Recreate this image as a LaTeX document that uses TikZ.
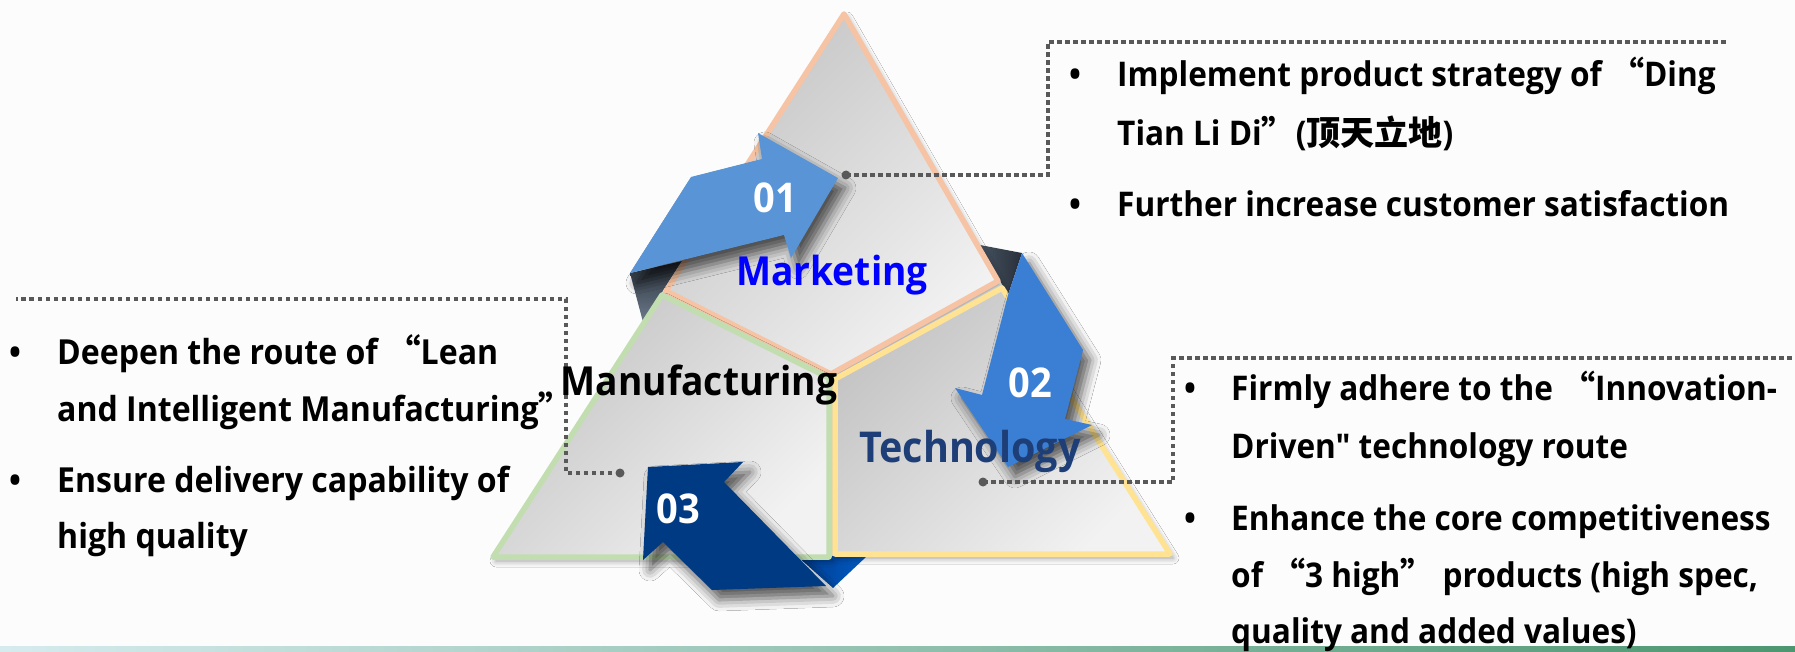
\documentclass[tikz,border=0pt]{standalone}
\usepackage{fontspec}
\usetikzlibrary{shadows.blur}
\newfontfamily\rawfont{Open Sans}
\newfontfamily\cjkfont{Noto Sans CJK SC}
\newlength\measw
\settowidth\measw{\rawfont\bfseries\fontsize{34}{40}\selectfont Further increase customer satisfaction}
\edef\stretchval{\fpeval{round(612pt/\measw,3)}}
\expanded{\noexpand\newfontfamily\noexpand\mainf{Open Sans}[FakeStretch=\stretchval]}
\newcommand\qo{{\cjkfont\bfseries “}}
\newcommand\qc{{\cjkfont\bfseries ”}}
\newcommand\qcend{\makebox[0.4em][l]{\cjkfont\bfseries ”}}
\definecolor{bgc}{HTML}{FCFCFC}
\definecolor{pdark}{HTML}{C4C4C4}
\definecolor{plight}{HTML}{F2F2F2}
\definecolor{peach}{HTML}{F6C4A4}
\definecolor{pgreen}{HTML}{C2DEB0}
\definecolor{pyellow}{HTML}{FFE392}
\definecolor{arA}{HTML}{5894D6}
\definecolor{arB}{HTML}{3B7FD4}
\definecolor{arC}{HTML}{003A82}
\definecolor{dotc}{HTML}{595959}
\definecolor{techc}{HTML}{1E3E78}
\tikzset{
  piece/.style={top color=pdark, bottom color=plight, shading angle=45,
    line width=5.5pt, line join=round,
    blur shadow={shadow xshift=3pt, shadow yshift=-4pt, shadow blur radius=6pt, shadow opacity=40}},
  arrowshape/.style={blur shadow={shadow xshift=7pt, shadow yshift=-10pt, shadow blur radius=11pt, shadow opacity=65}},
  dotline/.style={draw=dotc, line width=4.2pt, dash pattern=on 4.5pt off 3.5pt},
  dotend/.style={circle, fill=dotc, inner sep=0pt, minimum size=9pt},
  bodytext/.style={anchor=base west, inner sep=0pt, font=\mainf\bfseries\fontsize{34}{40}\selectfont},
  lefttext/.style={anchor=base west, inner sep=0pt, font=\mainf\bfseries\fontsize{34.5}{40}\selectfont},
  bullet/.style={anchor=base, inner sep=0pt, font=\mainf\bfseries\fontsize{34}{40}\selectfont},
  label/.style={anchor=base, inner sep=0pt, font=\mainf\bfseries\fontsize{40}{46}\selectfont},
  num/.style={anchor=base, inner sep=0pt, text=white, font=\mainf\bfseries\fontsize{41}{48}\selectfont}
}
\begin{document}
\begin{tikzpicture}[x=1pt,y=-1pt]
\useasboundingbox (0,0) rectangle (1795,652);
\fill[bgc] (0,0) rectangle (1795,652);
% bottom strip
\shade[left color={rgb,255:red,214;green,235;blue,238}, middle color={rgb,255:red,166;green,208;blue,214}, right color={rgb,255:red,76;green,150;blue,112}] (0,646) rectangle (1795,652);
% folds behind
\shade[top color={rgb,255:red,42;green,50;blue,60}, bottom color={rgb,255:red,108;green,122;blue,138}] (630,273) -- (682,261) -- (643,322) -- cycle;
\shade[left color={rgb,255:red,70;green,82;blue,96}, right color={rgb,255:red,40;green,48;blue,58}] (980,245) -- (1022,253) -- (1008,295) -- cycle;
\shade[left color={rgb,255:red,0;green,60;blue,140}, right color={rgb,255:red,0;green,90;blue,196}] (797,556) -- (867,556) -- (833,588) -- cycle;
% pieces
\path[piece, draw=peach] (844,14) -- (998,281) -- (831,374) -- (666,291) -- cycle;
\path[piece, draw=pgreen] (662,295) -- (493,557) -- (829,557) -- (829,378) -- cycle;
\path[piece, draw=pyellow] (1002,288) -- (1170,554) -- (835,554) -- (835,379) -- cycle;
% arrows
\fill[arA, arrowshape] (630,273) -- (691,177) -- (762,159) -- (758,133) -- (838,178) -- (791,258) -- (784,235) -- cycle;
\fill[arB, arrowshape] (1022,253) -- (1083,350) -- (1065,419) -- (1092,425) -- (1008,467) -- (955,388) -- (982,395) -- (1008,295) -- cycle;
\fill[arC, arrowshape] (648,467) -- (743,462) -- (724,482) -- (826,586) -- (712,590) -- (663,542) -- (643,560) -- cycle;
% connectors
\node[dotend] (mdot) at (846,175) {};
\coordinate (mk) at (1048,175);
\coordinate (mend) at (1726,42);
\draw[dotline] (mdot.center) -- (mk) |- (mend);
\node[dotend] (fdot) at (620,473) {};
\coordinate (fk) at (566,473);
\coordinate (fend) at (16,299);
\draw[dotline] (fdot.center) -- (fk) |- (fend);
\node[dotend] (tdot) at (983,482) {};
\coordinate (tk) at (1173,482);
\coordinate (tend) at (1795,358);
\draw[dotline] (tdot.center) -- (tk) |- (tend);
% labels
\node[num] (n1) at (775,213) {01};
\node[num] (n2) at (1030,397) {02};
\node[num] (n3) at (678,523) {03};
\node[label, text={rgb,255:red,0;green,0;blue,255}] (mkt) at (832,285) {Marketing};
\node[label, text=black] (mfg) at (699,395) {Manufacturing};
\node[label, text=techc, font=\mainf\bfseries\fontsize{42.5}{48}\selectfont] (tec) at (970,462) {Technology};
% right top text
\node[bullet] (b1) at (1075,87) {•};
\node[bodytext] (t1) at (1117,87) {Implement product strategy of \qo Ding};
\node[bodytext] (t2) at (1117,146) {Tian Li Di\qc(\cjkfont\bfseries 顶天立地\mainf)};
\node[bullet] (b2) at (1075,217) {•};
\node[bodytext] (t3) at (1117,217) {Further increase customer satisfaction};
% left text
\node[bullet] (b3) at (15,364) {•};
\node[lefttext] (l1) at (57,364) {Deepen the route of \qo Lean};
\node[lefttext] (l2) at (57,421) {and Intelligent Manufacturing\qcend};
\node[bullet] (b4) at (15,492) {•};
\node[lefttext] (l3) at (57,492) {Ensure delivery capability of};
\node[lefttext] (l4) at (57,548) {high quality};
% right bottom text
\node[bullet] (b5) at (1190,400) {•};
\node[bodytext] (r1) at (1231,400) {Firmly adhere to the \qo Innovation-};
\node[bodytext] (r2) at (1231,458) {Driven" technology route};
\node[bullet] (b6) at (1190,530) {•};
\node[bodytext] (r3) at (1231,530) {Enhance the core competitiveness};
\node[bodytext] (r4) at (1231,587) {of \qo 3 high\qc\ products (high spec,};
\node[bodytext] (r5) at (1231,643) {quality and added values)};
\end{tikzpicture}
\end{document}
